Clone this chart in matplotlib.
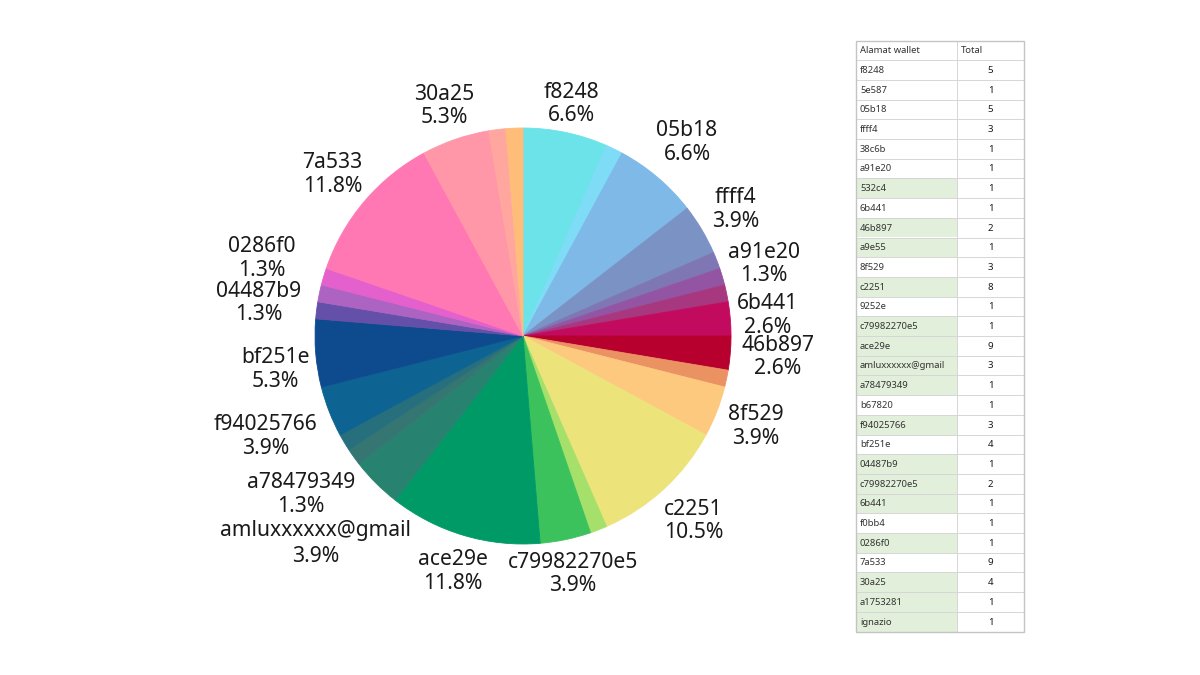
import matplotlib
matplotlib.use("Agg")
import matplotlib.pyplot as plt
from matplotlib.patches import Rectangle
import numpy as np

# ---------------- data ----------------
# pie slices (duplicate wallet names aggregated at first occurrence)
pie_names = ["f8248", "5e587", "05b18", "ffff4", "38c6b", "a91e20", "532c4",
             "6b441", "46b897", "a9e55", "8f529", "c2251", "9252e",
             "c79982270e5", "ace29e", "amluxxxxxx@gmail", "a78479349",
             "b67820", "f94025766", "bf251e", "04487b9", "f0bb4", "0286f0",
             "7a533", "30a25", "a1753281", "ignazio"]
pie_values = [5, 1, 5, 3, 1, 1, 1, 2, 2, 1, 3, 8, 1, 3, 9, 3, 1, 1, 3, 4,
              1, 1, 1, 9, 4, 1, 1]
pie_colors = ["#6ce3e8", "#7fdcf7", "#7fb9e7", "#7b92c5", "#7f77b3",
              "#9355a3", "#a7387f", "#c20a5e", "#b7002e", "#eb9262",
              "#fdc97f", "#ede37b", "#a5e06b", "#3cc25d", "#009a67",
              "#27836f", "#357672", "#286f7d", "#0d6391", "#0e4a8e",
              "#6450a8", "#ac63c1", "#e460cc", "#ff78b3", "#ff97a8",
              "#ffa79e", "#ffbd79"]
# slices that carry a label in the reference
labelled_names = ["f8248", "05b18", "ffff4", "a91e20", "6b441", "46b897",
                  "8f529", "c2251", "c79982270e5", "ace29e",
                  "amluxxxxxx@gmail", "a78479349", "f94025766", "bf251e",
                  "04487b9", "0286f0", "7a533", "30a25"]

# table on the right
table_header = ["Alamat wallet", "Total"]
table_names = ["f8248", "5e587", "05b18", "ffff4", "38c6b", "a91e20", "532c4",
               "6b441", "46b897", "a9e55", "8f529", "c2251", "9252e",
               "c79982270e5", "ace29e", "amluxxxxxx@gmail", "a78479349",
               "b67820", "f94025766", "bf251e", "04487b9", "c79982270e5",
               "6b441", "f0bb4", "0286f0", "7a533", "30a25", "a1753281",
               "ignazio"]
table_totals = [5, 1, 5, 3, 1, 1, 1, 1, 2, 1, 3, 8, 1, 1, 9, 3, 1, 1, 3, 4,
                1, 2, 1, 1, 1, 9, 4, 1, 1]
table_highlight = [0, 0, 0, 0, 0, 0, 1, 0, 1, 1, 0, 1, 0, 1, 1, 1, 1, 0, 1, 0,
                   1, 1, 1, 0, 1, 0, 1, 1, 1]

# ---------------- style ----------------
FONT = ["Noto Sans", "DejaVu Sans"]
plt.rcParams["font.family"] = FONT
label_dist = {"f8248": 1.14, "05b18": 1.22, "ffff4": 1.19, "a91e20": 1.21,
              "6b441": 1.18, "46b897": 1.23, "8f529": 1.20, "c2251": 1.21,
              "c79982270e5": 1.17, "ace29e": 1.18, "amluxxxxxx@gmail": 1.41,
              "a78479349": 1.31, "f94025766": 1.33, "bf251e": 1.20,
              "04487b9": 1.28, "0286f0": 1.31, "7a533": 1.20, "30a25": 1.17}
label_rot = {"bf251e": 3.0}

W, H = 1200, 675
fig = plt.figure(figsize=(12, 6.75), dpi=100)
fig.patch.set_facecolor("white")

# ---------------- pie ----------------
cx, cy, R = 523, 336, 208
ax = fig.add_axes([(cx - R) / W, (H - cy - R) / H, 2 * R / W, 2 * R / H])
wedges, _ = ax.pie(pie_values, colors=pie_colors, startangle=90,
                   counterclock=False, radius=1.0,
                   wedgeprops=dict(linewidth=0.6))
for w in wedges:
    w.set_edgecolor(w.get_facecolor())
ax.set_xlim(-1, 1)
ax.set_ylim(-1, 1)
ax.set_aspect("equal")
ax.axis("off")

total = float(sum(pie_values))
for w, name, v in zip(wedges, pie_names, pie_values):
    if name not in labelled_names:
        continue
    theta = np.deg2rad((w.theta1 + w.theta2) / 2 + label_rot.get(name, 0.0))
    d = label_dist.get(name, 1.2)
    ls = 1.3 if "@" in name else 1.16
    ax.text(d * np.cos(theta), d * np.sin(theta),
            f"{name}\n{100 * v / total:.1f}%",
            ha="center", va="center", multialignment="center",
            fontsize=15.2, color="#1a1a1a", linespacing=ls,
            clip_on=False)

# ---------------- table ----------------
tx0, tx1, ty0, ty1 = 856, 1024, 40.5, 631.5
col_split = 957 - tx0
tw = tx1 - tx0
n_rows = len(table_names) + 1
tax = fig.add_axes([tx0 / W, (H - ty1) / H, tw / W, (ty1 - ty0) / H])
tax.set_xlim(0, tw)
tax.set_ylim(n_rows, 0)
tax.axis("off")

grid_c = "#d6d6d6"
for i, (nm, tot, hl) in enumerate(zip(table_names, table_totals, table_highlight)):
    r = i + 1
    if hl:
        tax.add_patch(Rectangle((0, r), col_split, 1, facecolor="#e2efda",
                                edgecolor="none", zorder=1))
    tax.text(4, r + 0.52, nm, ha="left", va="center", fontsize=6.8,
             color="#333333", zorder=3)
    tax.text((col_split + tw) / 2, r + 0.52, str(tot), ha="center",
             va="center", fontsize=7.0, fontweight="bold", color="#1a1a1a",
             zorder=3)
tax.text(4, 0.52, table_header[0], ha="left", va="center", fontsize=6.8,
         color="#333333")
tax.text(col_split + 4, 0.52, table_header[1], ha="left", va="center",
         fontsize=6.8, color="#333333")
for r in range(1, n_rows):
    tax.plot([0, tw], [r, r], color=grid_c, lw=0.7, zorder=2)
tax.plot([col_split, col_split], [0, n_rows], color=grid_c, lw=0.7, zorder=2)
tax.add_patch(Rectangle((0, 0), tw, n_rows, facecolor="none",
                        edgecolor="#c4c4c4", lw=1.0, zorder=4, clip_on=False))

fig.savefig("out.png", dpi=100, facecolor="white")
